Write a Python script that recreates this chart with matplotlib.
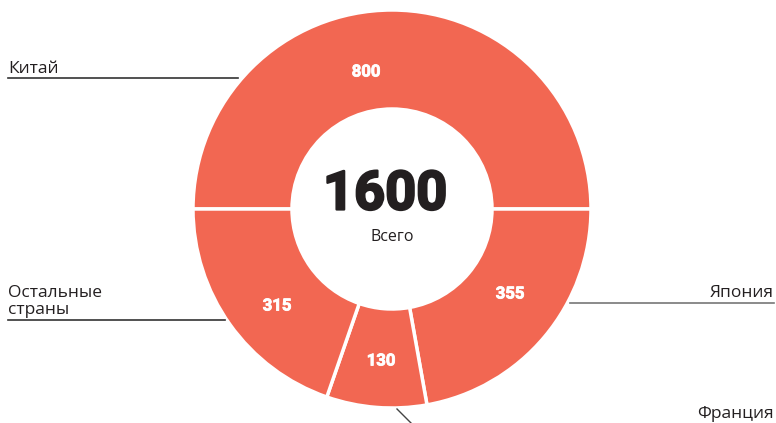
import matplotlib
matplotlib.use("Agg")
import matplotlib.pyplot as plt
import matplotlib.patheffects as pe

# data
countries = ["Китай", "Япония", "Франция", "Остальные\nстраны"]
values = [800, 355, 130, 315]
total_label = "Всего"

color = "#F26752"
dark = "#231F20"

W, H = 776, 423
fig = plt.figure(figsize=(W / 100, H / 100), dpi=100)
ax = fig.add_axes([0, 0, 1, 1])

# pixel coords, y flipped so pie keeps its orientation
cx, cy, R = 392, H - 209, 199
wedges, _ = ax.pie(
    values,
    radius=R,
    center=(cx, cy),
    startangle=180,
    counterclock=False,
    colors=[color] * len(values),
    wedgeprops=dict(width=R - 100, edgecolor="white", linewidth=2.5),
)
ax.set_xlim(0, W)
ax.set_ylim(0, H)
ax.set_aspect("equal")
ax.axis("off")

# value labels inside the ring
value_pos = [(366, 72), (510, 294), (381, 361), (277, 306)]
for v, (x, y) in zip(values, value_pos):
    ax.text(x, H - y, str(v), color="white", fontsize=12, fontweight="bold",
            family="Roboto", ha="center", va="center",
            path_effects=[pe.withStroke(linewidth=0.6, foreground="white")])

# centre
ax.text(cx - 7, H - 195, str(sum(values)), color=dark, fontsize=39, fontweight="bold",
        family="Roboto", ha="center", va="center",
        path_effects=[pe.withStroke(linewidth=1.6, foreground=dark)])
ax.text(cx, H - 237, total_label, color=dark, fontsize=11.5, family="Open Sans",
        ha="center", va="center")

# country labels with leader lines
lab = dict(color=dark, fontsize=12.5, family="Open Sans")
ax.text(8, H - 73, countries[0], ha="left", va="baseline", **lab)
ax.plot([8, 238], [H - 78, H - 78], color="#333333", lw=1.2)

ax.text(8, H - 314, countries[3], ha="left", va="baseline", linespacing=1.05, **lab)
ax.plot([8, 225], [H - 320, H - 320], color="#333333", lw=1.2)

ax.text(774, H - 297, countries[1], ha="right", va="baseline", **lab)
ax.plot([570, 774], [H - 303, H - 303], color="#777777", lw=1.2)

ax.text(774, H - 418, countries[2], ha="right", va="baseline", **lab)
ax.plot([397, 411], [H - 409, H - 423], color="#444444", lw=1.0)

fig.savefig("out.png", dpi=100)
